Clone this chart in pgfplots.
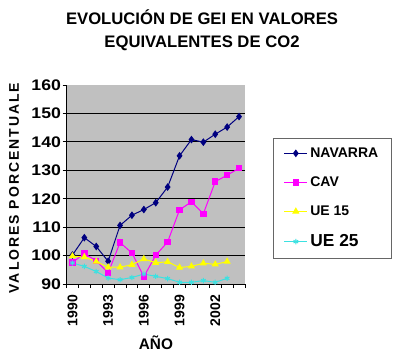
\documentclass[border=0pt]{standalone}
\usepackage{fontspec}
\setmainfont{Liberation Sans}
\usepackage{pgfplots}
\pgfplotsset{compat=1.18}
\definecolor{navy}{RGB}{0,0,128}
\definecolor{mag}{RGB}{255,0,255}
\definecolor{yel}{RGB}{255,255,0}
\definecolor{cya}{RGB}{60,225,225}
\definecolor{plotbg}{RGB}{192,192,192}
\begin{document}
\begin{tikzpicture}[x=0.75pt,y=0.75pt]
\useasboundingbox (0,0) rectangle (400,355);
\node[font=\bfseries\fontsize{12.5}{15}\selectfont, anchor=base, inner sep=0pt] at (202,331) {EVOLUCIÓN DE GEI EN VALORES};
\node[font=\bfseries\fontsize{12.5}{15}\selectfont, anchor=base, inner sep=0pt] at (202,307.7) {EQUIVALENTES DE CO2};
\begin{axis}[
  at={(49.875pt,53.25pt)}, anchor=south west,
  scale only axis, width=133.875pt, height=149.25pt,
  xmin=1989.5, xmax=2004.5, ymin=90, ymax=160,
  axis background/.style={fill=plotbg},
  axis x line*=bottom, axis y line*=left,
  axis line style={-, black, line width=0.6pt},
  ytick={90,100,...,150}, extra y ticks={160}, extra y tick style={grid=none},
  ymajorgrids, grid style={black, line width=0.6pt},
  xtick={1990,1993,1996,1999,2002},
  xticklabels={1990,1993,1996,1999,2002},
  minor xtick={1989.5,1990.5,...,2004.5},
  major x tick style={draw=none},
  tick align=outside, major tick length=3pt, minor tick length=3pt,
  tick style={black, line width=0.6pt},
  /pgf/number format/assume math mode=true,
  yticklabel style={font=\bfseries\fontsize{11.5}{12}\selectfont\addfontfeature{FakeStretch=1.15}, inner sep=1pt},
  xticklabel style={font=\bfseries\fontsize{10.5}{12}\selectfont, rotate=90, anchor=east, inner xsep=5pt},
  xlabel={AÑO},
  xlabel style={font=\bfseries\fontsize{11.5}{13}\selectfont, at={(axis description cs:0.501,-0.296)}, anchor=center},
  ylabel={\addfontfeature{LetterSpace=14}VALORES PORCENTUALE},
  ylabel style={font=\bfseries\fontsize{10.5}{12}\selectfont, at={(axis description cs:-0.294,0.482)}, anchor=center, rotate=0},
  legend style={at={(1.157,0.734)}, anchor=north west, draw=black!60, fill=white,
    inner xsep=8pt, inner ysep=5pt, row sep=9pt,
    font=\bfseries\fontsize{10.5}{12}\selectfont},
  legend cell align=left,
]
\addplot[navy, line width=0.75pt, mark=diamond*, mark size=2.3pt, mark options={fill=navy}] coordinates {
(1990,100.2) (1991,106.3) (1992,103.2) (1993,98.0) (1994,110.6) (1995,114.2) (1996,116.2) (1997,118.6) (1998,124.1) (1999,135.1) (2000,140.8) (2001,139.9) (2002,142.7) (2003,145.2) (2004,148.9)};
\addlegendentry{NAVARRA}
\addplot[mag, line width=0.75pt, mark=square*, mark size=2pt, mark options={fill=mag}] coordinates {
(1990,97.6) (1991,100.7) (1992,98.2) (1993,93.9) (1994,104.6) (1995,100.9) (1996,92.6) (1997,100.1) (1998,104.8) (1999,116.1) (2000,118.9) (2001,114.7) (2002,126.0) (2003,128.3) (2004,130.7)};
\addlegendentry{CAV}
\addplot[yel, line width=0.75pt, mark=triangle*, mark size=2.4pt, mark options={fill=yel}] coordinates {
(1990,99.8) (1991,99.5) (1992,97.9) (1993,95.9) (1994,95.9) (1995,96.8) (1996,98.8) (1997,97.5) (1998,97.8) (1999,95.8) (2000,96.2) (2001,97.3) (2002,96.9) (2003,97.9)};
\addlegendentry{UE 15}
\addplot[cya, line width=0.75pt, mark=asterisk, mark size=2pt] coordinates {
(1990,97.4) (1991,96.2) (1992,94.4) (1993,92.1) (1994,91.5) (1995,92.3) (1996,93.5) (1997,92.7) (1998,91.9) (1999,90.6) (2000,90.6) (2001,91.2) (2002,90.6) (2003,92.0)};
\addlegendentry{\fontsize{13}{14}\selectfont UE 25}
\end{axis}
\end{tikzpicture}
\end{document}
